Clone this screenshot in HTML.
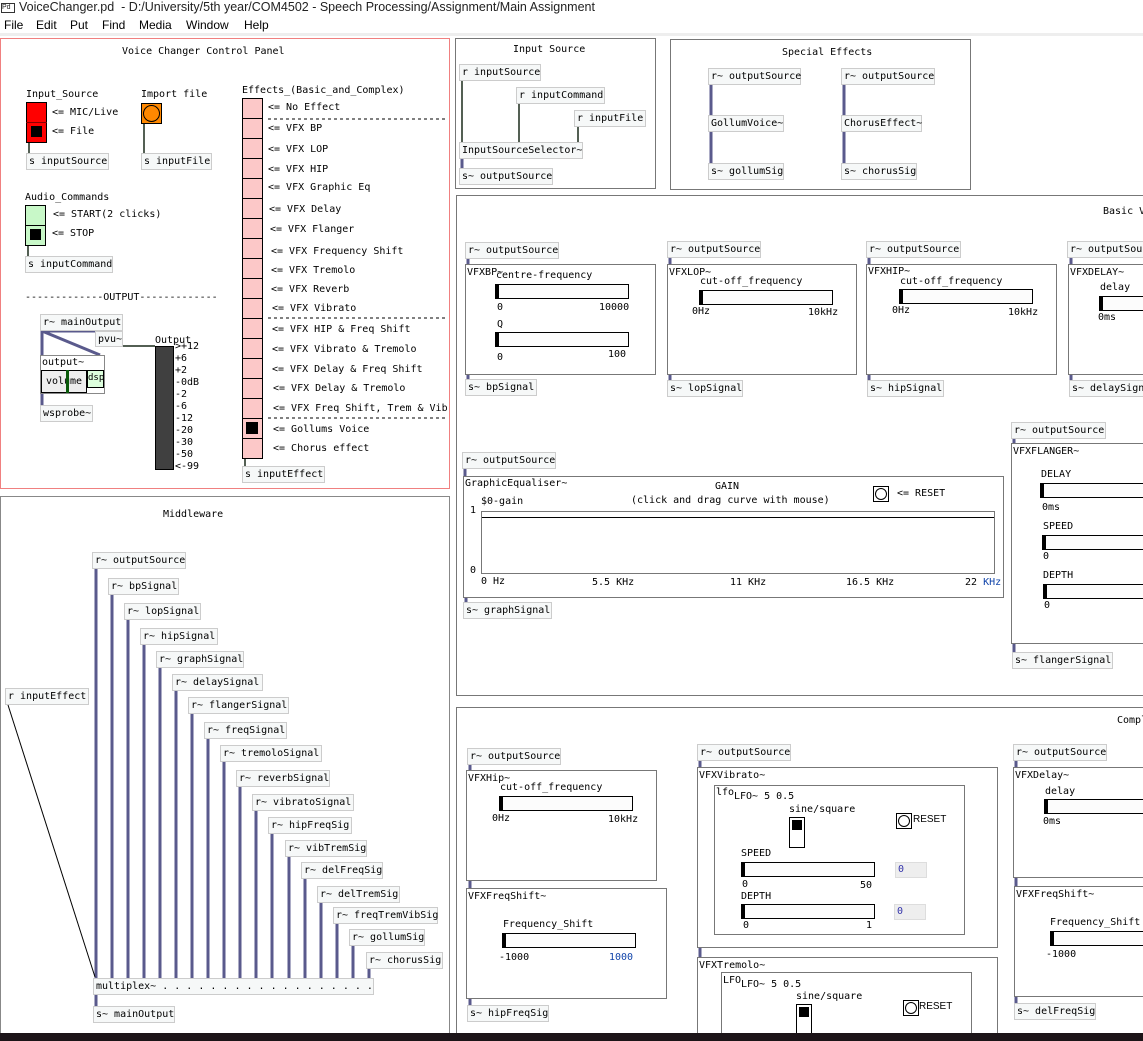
<!DOCTYPE html>
<html style="overflow:hidden;width:1143px;height:1041px"><head><meta charset="utf-8"><style>
*{margin:0;padding:0;box-sizing:border-box}
body{width:1143px;height:1041px;position:relative;overflow:hidden;background:#fff;font-family:"DejaVu Sans Mono","Liberation Mono",monospace;font-size:10px;color:#000}
div{position:absolute;white-space:nowrap}
.b{height:17px;border:1px solid #ccc;background:#f6f8f8;line-height:15px;padding-left:2px}
.x{line-height:14px}
.g{border:1px solid #777;background:#fff}
.p{border:1px solid #f08080}
.sl{height:15px;border:1px solid #000;background:#fcfcfc;border-left:4px solid #000}
.menu{font-family:"Liberation Sans",sans-serif;font-size:12px}
.nb{width:32px;height:16px;background:#eee;border:1px solid #ddd;line-height:14px;padding-left:2px;color:#33a}
</style></head><body>
<div style="left:0;top:0;width:1143px;height:16px;font-family:'Liberation Sans',sans-serif;font-size:12.5px;line-height:14px;color:#222"><span style="display:inline-block;width:14px;height:10px;border:1px solid #333;margin:0 4px 0 1px;font-size:7px;line-height:8px;vertical-align:middle">Pd</span>VoiceChanger.pd&nbsp; - D:/University/5th year/COM4502 - Speech Processing/Assignment/Main Assignment</div>
<div class="menu" style="left:4px;top:18px">File</div>
<div class="menu" style="left:36px;top:18px">Edit</div>
<div class="menu" style="left:70px;top:18px">Put</div>
<div class="menu" style="left:102px;top:18px">Find</div>
<div class="menu" style="left:139px;top:18px">Media</div>
<div class="menu" style="left:186px;top:18px">Window</div>
<div class="menu" style="left:244px;top:18px">Help</div>
<div style="left:0;top:33px;width:1143px;height:3px;background:#eee"></div>

<!-- panels -->
<div class="p" style="left:0;top:38px;width:450px;height:451px"></div>
<div class="g" style="left:0;top:496px;width:450px;height:545px;border-color:#888"></div>
<div class="g" style="left:455px;top:38px;width:201px;height:151px"></div>
<div class="g" style="left:670px;top:39px;width:301px;height:151px"></div>
<div class="g" style="left:456px;top:195px;width:700px;height:501px"></div>
<div class="g" style="left:456px;top:707px;width:700px;height:334px"></div>

<svg style="position:absolute;left:0;top:0" width="1143" height="1041">
<g stroke="#5a5a8c" stroke-width="3" fill="none">
<line x1="42" y1="331" x2="42" y2="405"/><line x1="42" y1="331" x2="100" y2="355"/><line x1="42" y1="331" x2="97" y2="331"/>
<line x1="462" y1="159" x2="462" y2="168"/>
<line x1="711" y1="85" x2="711" y2="115"/><line x1="711" y1="132" x2="711" y2="163"/>
<line x1="844" y1="85" x2="844" y2="115"/><line x1="844" y1="132" x2="844" y2="163"/>
<line x1="96" y1="569" x2="96" y2="978"/><line x1="112" y1="595" x2="112" y2="978"/><line x1="128" y1="620" x2="128" y2="978"/><line x1="144" y1="645" x2="144" y2="978"/><line x1="160" y1="668" x2="160" y2="978"/><line x1="176" y1="691" x2="176" y2="978"/><line x1="192" y1="714" x2="192" y2="978"/><line x1="208" y1="739" x2="208" y2="978"/><line x1="224" y1="762" x2="224" y2="978"/><line x1="240" y1="787" x2="240" y2="978"/><line x1="256" y1="811" x2="256" y2="978"/><line x1="272" y1="834" x2="272" y2="978"/><line x1="289" y1="857" x2="289" y2="978"/><line x1="305" y1="879" x2="305" y2="978"/><line x1="321" y1="903" x2="321" y2="978"/><line x1="337" y1="924" x2="337" y2="978"/><line x1="353" y1="946" x2="353" y2="978"/><line x1="369" y1="969" x2="369" y2="978"/>
<line x1="96" y1="995" x2="96" y2="1006"/>
<line x1="468" y1="259" x2="468" y2="264"/><line x1="468" y1="374" x2="468" y2="379"/>
<line x1="670" y1="258" x2="670" y2="264"/><line x1="670" y1="374" x2="670" y2="380"/>
<line x1="869" y1="258" x2="869" y2="264"/><line x1="869" y1="374" x2="869" y2="380"/>
<line x1="1071" y1="258" x2="1071" y2="264"/><line x1="1071" y1="374" x2="1071" y2="380"/>
<line x1="465" y1="469" x2="465" y2="476"/><line x1="466" y1="597" x2="466" y2="602"/>
<line x1="1014" y1="439" x2="1014" y2="443"/><line x1="1014" y1="643" x2="1014" y2="652"/>
<line x1="470" y1="765" x2="470" y2="770"/><line x1="470" y1="880" x2="470" y2="888"/><line x1="470" y1="998" x2="470" y2="1005"/>
<line x1="700" y1="761" x2="700" y2="767"/><line x1="700" y1="947" x2="700" y2="957"/>
<line x1="1016" y1="761" x2="1016" y2="767"/><line x1="1016" y1="877" x2="1016" y2="886"/><line x1="1016" y1="996" x2="1016" y2="1003"/>
</g>
<g stroke="#1a2a1a" stroke-width="1.5" fill="none">
<line x1="29" y1="142" x2="29" y2="153"/><line x1="144" y1="123" x2="144" y2="153"/><line x1="28" y1="245" x2="28" y2="256"/>
<line x1="245" y1="458" x2="245" y2="466"/>
<line x1="100" y1="346" x2="155" y2="346"/>
<line x1="462" y1="81" x2="462" y2="142"/><line x1="519" y1="104" x2="519" y2="142"/><line x1="578" y1="127" x2="578" y2="142"/>
</g>
<line x1="8" y1="705" x2="95" y2="977" stroke="#000" stroke-width="1"/>
<g stroke="#000" stroke-width="1" stroke-dasharray="3,3">
<line x1="268" y1="119" x2="446" y2="119"/><line x1="268" y1="318" x2="446" y2="318"/><line x1="268" y1="418" x2="446" y2="418"/>
</g>
</svg>

<!-- Control panel -->
<div class="x" style="left:122px;top:45px">Voice Changer Control Panel</div>
<div class="x" style="left:26px;top:88px">Input_Source</div>
<div style="left:26px;top:102px;width:21px;height:41px;border:1px solid #000;background:#f00"></div>
<div style="left:26px;top:122px;width:21px;height:1px;background:#800"></div>
<div style="left:31px;top:126px;width:11px;height:11px;background:#000"></div>
<div class="x" style="left:52px;top:106px">&lt;= MIC/Live</div>
<div class="x" style="left:52px;top:125px">&lt;= File</div>
<div class="b" style="left:26px;top:153px;width:83px">s inputSource</div>
<div class="x" style="left:141px;top:88px">Import file</div>
<div style="left:141px;top:103px;width:21px;height:21px;border:1px solid #000;background:#f80"></div>
<div style="left:143px;top:105px;width:17px;height:17px;border:1px solid #000;border-radius:50%"></div>
<div class="b" style="left:141px;top:153px;width:71px">s inputFile</div>
<div class="x" style="left:25px;top:191px">Audio_Commands</div>
<div style="left:25px;top:205px;width:21px;height:41px;border:1px solid #000;background:#c8f8c8"></div>
<div style="left:25px;top:225px;width:21px;height:1px;background:#000"></div>
<div style="left:30px;top:229px;width:11px;height:11px;background:#000"></div>
<div class="x" style="left:53px;top:208px">&lt;= START(2 clicks)</div>
<div class="x" style="left:52px;top:227px">&lt;= STOP</div>
<div class="b" style="left:25px;top:256px;width:88px">s inputCommand</div>
<div class="x" style="left:25px;top:291px">-------------OUTPUT-------------</div>
<div class="b" style="left:40px;top:314px;width:83px">r~ mainOutput</div>
<div class="b" style="left:95px;top:331px;width:28px;height:16px">pvu~</div>
<div class="g" style="left:40px;top:355px;width:65px;height:39px;border-color:#888;background:#fff"><span style="position:absolute;left:1px;top:1px">output~</span></div>
<div style="left:41px;top:370px;width:46px;height:23px;background:#eee;border:1px solid #000;text-align:center;line-height:21px">volume</div>
<div style="left:66px;top:370px;width:3px;height:23px;background:#0a5a0a"></div>
<div style="left:87px;top:370px;width:17px;height:18px;background:#dfd;border:1px solid #000;font-size:9px;line-height:14px">dsp</div>
<div class="b" style="left:40px;top:405px;width:53px">wsprobe~</div>
<div class="x" style="left:155px;top:334px">Output</div>
<div style="left:155px;top:346px;width:19px;height:124px;background:#404040;border:1px solid #000"></div>
<div class="x" style="left:175px;top:341px;line-height:12px">&gt;+12<br>+6<br>+2<br>-0dB<br>-2<br>-6<br>-12<br>-20<br>-30<br>-50<br>&lt;-99</div>
<div class="x" style="left:242px;top:84px">Effects_(Basic_and_Complex)</div>
<div style="left:242px;top:98px;width:21px;height:361px;border:1px solid #000;background:repeating-linear-gradient(#fcc8c8 0 19px,#000 19px 20px)"></div>
<div style="left:246px;top:422px;width:12px;height:12px;background:#000"></div>
<div class="x" style="left:268px;top:101px">&lt;= No Effect</div>
<div class="x" style="left:268px;top:122px">&lt;= VFX BP</div>
<div class="x" style="left:268px;top:143px">&lt;= VFX LOP</div>
<div class="x" style="left:268px;top:163px">&lt;= VFX HIP</div>
<div class="x" style="left:268px;top:181px">&lt;= VFX Graphic Eq</div>
<div class="x" style="left:269px;top:203px">&lt;= VFX Delay</div>
<div class="x" style="left:270px;top:223px">&lt;= VFX Flanger</div>
<div class="x" style="left:271px;top:245px">&lt;= VFX Frequency Shift</div>
<div class="x" style="left:271px;top:264px">&lt;= VFX Tremolo</div>
<div class="x" style="left:271px;top:283px">&lt;= VFX Reverb</div>
<div class="x" style="left:272px;top:302px">&lt;= VFX Vibrato</div>
<div class="x" style="left:272px;top:323px">&lt;= VFX HIP &amp; Freq Shift</div>
<div class="x" style="left:272px;top:343px">&lt;= VFX Vibrato &amp; Tremolo</div>
<div class="x" style="left:272px;top:363px">&lt;= VFX Delay &amp; Freq Shift</div>
<div class="x" style="left:273px;top:382px">&lt;= VFX Delay &amp; Tremolo</div>
<div class="x" style="left:273px;top:402px">&lt;= VFX Freq Shift, Trem &amp; Vib</div>
<div class="x" style="left:273px;top:423px">&lt;= Gollums Voice</div>
<div class="x" style="left:273px;top:442px">&lt;= Chorus effect</div>
<div class="b" style="left:242px;top:466px;width:83px">s inputEffect</div>

<!-- Middleware -->
<div class="x" style="left:163px;top:508px">Middleware</div>
<div class="b" style="left:5px;top:688px;width:84px">r inputEffect</div>
<div class="b" style="left:92px;top:552px;width:94px">r~ outputSource</div>
<div class="b" style="left:108px;top:578px;width:71px">r~ bpSignal</div>
<div class="b" style="left:124px;top:603px;width:77px">r~ lopSignal</div>
<div class="b" style="left:140px;top:628px;width:78px">r~ hipSignal</div>
<div class="b" style="left:156px;top:651px;width:88px">r~ graphSignal</div>
<div class="b" style="left:172px;top:674px;width:91px">r~ delaySignal</div>
<div class="b" style="left:188px;top:697px;width:101px">r~ flangerSignal</div>
<div class="b" style="left:204px;top:722px;width:83px">r~ freqSignal</div>
<div class="b" style="left:220px;top:745px;width:102px">r~ tremoloSignal</div>
<div class="b" style="left:236px;top:770px;width:94px">r~ reverbSignal</div>
<div class="b" style="left:252px;top:794px;width:102px">r~ vibratoSignal</div>
<div class="b" style="left:268px;top:817px;width:84px">r~ hipFreqSig</div>
<div class="b" style="left:285px;top:840px;width:82px">r~ vibTremSig</div>
<div class="b" style="left:301px;top:862px;width:82px">r~ delFreqSig</div>
<div class="b" style="left:317px;top:886px;width:83px">r~ delTremSig</div>
<div class="b" style="left:333px;top:907px;width:105px">r~ freqTremVibSig</div>
<div class="b" style="left:349px;top:929px;width:76px">r~ gollumSig</div>
<div class="b" style="left:366px;top:952px;width:77px">r~ chorusSig</div>
<div class="b" style="left:93px;top:978px;width:281px">multiplex~ . . . . . . . . . . . . . . . . . .</div>
<div class="b" style="left:93px;top:1006px;width:82px">s~ mainOutput</div>

<!-- Input Source -->
<div class="x" style="left:513px;top:43px">Input Source</div>
<div class="b" style="left:459px;top:64px;width:82px">r inputSource</div>
<div class="b" style="left:516px;top:87px;width:89px">r inputCommand</div>
<div class="b" style="left:574px;top:110px;width:72px">r inputFile</div>
<div class="b" style="left:459px;top:142px;width:124px">InputSourceSelector~</div>
<div class="b" style="left:459px;top:168px;width:94px">s~ outputSource</div>

<!-- Special Effects -->
<div class="x" style="left:782px;top:46px">Special Effects</div>
<div class="b" style="left:708px;top:68px;width:93px">r~ outputSource</div>
<div class="b" style="left:708px;top:115px;width:76px">GollumVoice~</div>
<div class="b" style="left:708px;top:163px;width:76px">s~ gollumSig</div>
<div class="b" style="left:841px;top:68px;width:94px">r~ outputSource</div>
<div class="b" style="left:841px;top:115px;width:81px">ChorusEffect~</div>
<div class="b" style="left:841px;top:163px;width:76px">s~ chorusSig</div>

<!-- Basic -->
<div class="x" style="left:1103px;top:205px">Basic V</div>
<div class="b" style="left:465px;top:242px;width:94px">r~ outputSource</div>
<div class="g" style="left:465px;top:264px;width:191px;height:111px"></div>
<div class="x" style="left:467px;top:266px">VFXBP~</div>
<div class="x" style="left:496px;top:269px">centre-frequency</div>
<div class="sl" style="left:495px;top:284px;width:134px"></div>
<div class="x" style="left:497px;top:301px">0</div><div class="x" style="left:599px;top:301px">10000</div>
<div class="x" style="left:497px;top:318px">Q</div>
<div class="sl" style="left:495px;top:332px;width:134px"></div>
<div class="x" style="left:497px;top:351px">0</div><div class="x" style="left:608px;top:348px">100</div>
<div class="b" style="left:465px;top:379px;width:72px">s~ bpSignal</div>

<div class="b" style="left:667px;top:241px;width:94px">r~ outputSource</div>
<div class="g" style="left:667px;top:264px;width:190px;height:111px"></div>
<div class="x" style="left:669px;top:266px">VFXLOP~</div>
<div class="x" style="left:700px;top:275px">cut-off_frequency</div>
<div class="sl" style="left:699px;top:290px;width:134px"></div>
<div class="x" style="left:692px;top:305px">0Hz</div><div class="x" style="left:808px;top:306px">10kHz</div>
<div class="b" style="left:667px;top:380px;width:76px">s~ lopSignal</div>

<div class="b" style="left:866px;top:241px;width:95px">r~ outputSource</div>
<div class="g" style="left:866px;top:264px;width:191px;height:111px"></div>
<div class="x" style="left:868px;top:265px">VFXHIP~</div>
<div class="x" style="left:900px;top:275px">cut-off_frequency</div>
<div class="sl" style="left:899px;top:289px;width:134px"></div>
<div class="x" style="left:892px;top:304px">0Hz</div><div class="x" style="left:1008px;top:306px">10kHz</div>
<div class="b" style="left:867px;top:380px;width:77px">s~ hipSignal</div>

<div class="b" style="left:1067px;top:241px;width:95px">r~ outputSource</div>
<div class="g" style="left:1068px;top:264px;width:100px;height:111px"></div>
<div class="x" style="left:1070px;top:266px">VFXDELAY~</div>
<div class="x" style="left:1100px;top:281px">delay</div>
<div class="sl" style="left:1099px;top:296px;width:60px;border-right:none"></div>
<div class="x" style="left:1098px;top:311px">0ms</div>
<div class="b" style="left:1069px;top:380px;width:85px">s~ delaySignal</div>

<div class="b" style="left:462px;top:452px;width:94px">r~ outputSource</div>
<div class="g" style="left:463px;top:476px;width:541px;height:122px"></div>
<div class="x" style="left:465px;top:477px">GraphicEqualiser~</div>
<div class="x" style="left:715px;top:480px">GAIN</div>
<div class="x" style="left:631px;top:494px">(click and drag curve with mouse)</div>
<div style="left:873px;top:486px;width:16px;height:16px;border:1px solid #000"><div style="left:1px;top:1px;width:12px;height:12px;border:1px solid #000;border-radius:50%"></div></div>
<div class="x" style="left:897px;top:487px">&lt;= RESET</div>
<div class="x" style="left:481px;top:495px">$0-gain</div>
<div class="x" style="left:470px;top:504px">1</div><div class="x" style="left:470px;top:564px">0</div>
<div style="left:481px;top:511px;width:514px;height:63px;border:1px solid #777"></div>
<div style="left:482px;top:517px;width:512px;height:1px;background:#000"></div>
<div class="x" style="left:481px;top:575px">0 Hz</div>
<div class="x" style="left:592px;top:576px">5.5 KHz</div>
<div class="x" style="left:730px;top:576px">11 KHz</div>
<div class="x" style="left:846px;top:576px">16.5 KHz</div>
<div class="x" style="left:965px;top:576px">22 <span style="color:#14a">KHz</span></div>
<div class="b" style="left:463px;top:602px;width:89px">s~ graphSignal</div>

<div class="b" style="left:1011px;top:422px;width:95px">r~ outputSource</div>
<div class="g" style="left:1011px;top:443px;width:150px;height:201px"></div>
<div class="x" style="left:1013px;top:445px">VFXFLANGER~</div>
<div class="x" style="left:1041px;top:468px">DELAY</div>
<div class="sl" style="left:1040px;top:483px;width:110px;border-right:none"></div>
<div class="x" style="left:1042px;top:501px">0ms</div>
<div class="x" style="left:1043px;top:520px">SPEED</div>
<div class="sl" style="left:1042px;top:535px;width:110px;border-right:none"></div>
<div class="x" style="left:1043px;top:550px">0</div>
<div class="x" style="left:1043px;top:569px">DEPTH</div>
<div class="sl" style="left:1043px;top:584px;width:110px;border-right:none"></div>
<div class="x" style="left:1044px;top:599px">0</div>
<div class="b" style="left:1012px;top:652px;width:101px">s~ flangerSignal</div>

<!-- Complex -->
<div class="x" style="left:1117px;top:714px">Compl</div>
<div class="b" style="left:467px;top:748px;width:94px">r~ outputSource</div>
<div class="g" style="left:466px;top:770px;width:191px;height:111px"></div>
<div class="x" style="left:468px;top:772px">VFXHip~</div>
<div class="x" style="left:500px;top:781px">cut-off_frequency</div>
<div class="sl" style="left:499px;top:796px;width:134px"></div>
<div class="x" style="left:492px;top:812px">0Hz</div><div class="x" style="left:608px;top:813px">10kHz</div>
<div class="g" style="left:466px;top:888px;width:201px;height:111px"></div>
<div class="x" style="left:468px;top:890px">VFXFreqShift~</div>
<div class="x" style="left:503px;top:918px">Frequency_Shift</div>
<div class="sl" style="left:502px;top:933px;width:134px"></div>
<div class="x" style="left:499px;top:951px">-1000</div><div class="x" style="left:609px;top:951px;color:#14a">1000</div>
<div class="b" style="left:467px;top:1005px;width:82px">s~ hipFreqSig</div>

<div class="b" style="left:697px;top:744px;width:94px">r~ outputSource</div>
<div class="g" style="left:697px;top:767px;width:301px;height:181px"></div>
<div class="x" style="left:699px;top:769px">VFXVibrato~</div>
<div class="g" style="left:714px;top:785px;width:251px;height:150px"></div>
<div class="x" style="left:716px;top:786px">lfo</div>
<div class="x" style="left:734px;top:790px">LFO~ 5 0.5</div>
<div class="x" style="left:789px;top:803px">sine/square</div>
<div style="left:789px;top:817px;width:16px;height:31px;border:1px solid #000;background:#fff"></div>
<div style="left:792px;top:820px;width:10px;height:10px;background:#000"></div>
<div style="left:896px;top:813px;width:16px;height:16px;border:1px solid #000"><div style="left:1px;top:1px;width:12px;height:12px;border:1px solid #000;border-radius:50%"></div></div>
<div class="x" style="left:913px;top:813px;font-family:'Liberation Sans',sans-serif">RESET</div>
<div class="x" style="left:741px;top:847px">SPEED</div>
<div class="sl" style="left:741px;top:862px;width:134px"></div>
<div class="nb" style="left:895px;top:862px">0</div>
<div class="x" style="left:742px;top:878px">0</div><div class="x" style="left:860px;top:879px">50</div>
<div class="x" style="left:741px;top:890px">DEPTH</div>
<div class="sl" style="left:741px;top:904px;width:134px"></div>
<div class="nb" style="left:894px;top:904px">0</div>
<div class="x" style="left:743px;top:919px">0</div><div class="x" style="left:866px;top:919px">1</div>

<div class="g" style="left:697px;top:957px;width:301px;height:84px"></div>
<div class="x" style="left:699px;top:959px">VFXTremolo~</div>
<div class="g" style="left:721px;top:972px;width:251px;height:69px"></div>
<div class="x" style="left:723px;top:974px">LFO</div>
<div class="x" style="left:741px;top:978px">LFO~ 5 0.5</div>
<div class="x" style="left:796px;top:990px">sine/square</div>
<div style="left:796px;top:1004px;width:16px;height:31px;border:1px solid #000;background:#fff"></div>
<div style="left:799px;top:1007px;width:10px;height:10px;background:#000"></div>
<div style="left:903px;top:1000px;width:16px;height:16px;border:1px solid #000"><div style="left:1px;top:1px;width:12px;height:12px;border:1px solid #000;border-radius:50%"></div></div>
<div class="x" style="left:919px;top:1000px;font-family:'Liberation Sans',sans-serif">RESET</div>

<div class="b" style="left:1013px;top:744px;width:94px">r~ outputSource</div>
<div class="g" style="left:1013px;top:767px;width:140px;height:111px"></div>
<div class="x" style="left:1015px;top:769px">VFXDelay~</div>
<div class="x" style="left:1045px;top:785px">delay</div>
<div class="sl" style="left:1044px;top:799px;width:110px;border-right:none"></div>
<div class="x" style="left:1043px;top:815px">0ms</div>
<div class="g" style="left:1014px;top:886px;width:140px;height:111px"></div>
<div class="x" style="left:1016px;top:888px">VFXFreqShift~</div>
<div class="x" style="left:1050px;top:916px">Frequency_Shift</div>
<div class="sl" style="left:1050px;top:931px;width:100px;border-right:none"></div>
<div class="x" style="left:1046px;top:948px">-1000</div>
<div class="b" style="left:1014px;top:1003px;width:82px">s~ delFreqSig</div>

<div style="left:0;top:1033px;width:1143px;height:8px;background:#1c1418;z-index:5"></div>
</body></html>
